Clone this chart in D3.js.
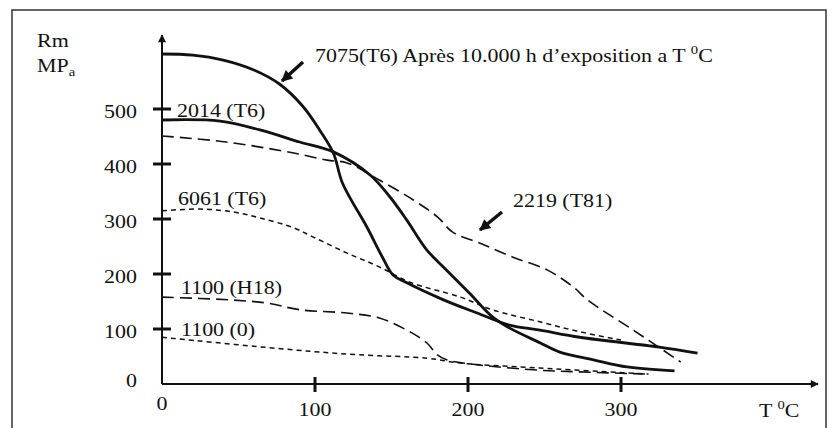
<!DOCTYPE html>
<html>
<head>
<meta charset="utf-8">
<script src="https://cdn.jsdelivr.net/npm/d3@7"></script>
<style>
body { margin: 0; background: #fff; }
</style>
</head>
<body>
<div id="chart"></div>
<script>
// values: T (°C) and Rm (MPa)
var t7075 = [0, 20, 40, 60, 77, 92, 103, 112, 118, 134, 144, 151, 160, 184, 206, 227, 247, 273, 325, 350]
var v7075 = [600, 598, 589, 571, 545, 505, 462, 420, 365, 285, 231, 198, 184, 153, 129, 107, 98, 85, 67, 56]
var t2014 = [0, 38, 64, 90, 112, 136, 149, 160, 173, 186, 201, 216, 227, 247, 260, 282, 304, 335]
var v2014 = [480, 478, 462, 440, 422, 380, 340, 298, 244, 207, 165, 122, 102, 75, 58, 44, 31, 24]
var t2219 = [0, 42, 86, 108, 121, 142, 164, 180, 190, 208, 229, 252, 269, 278, 308, 339]
var v2219 = [451, 440, 420, 407, 402, 371, 335, 304, 276, 256, 231, 207, 176, 153, 98, 40]
var t6061 = [0, 25, 46, 64, 86, 99, 121, 142, 162, 195, 216, 247, 273, 300]
var v6061 = [315, 318, 313, 302, 284, 267, 238, 213, 185, 158, 135, 113, 95, 80]
var t1100h = [0, 44, 69, 90, 121, 142, 160, 173, 180, 186, 206, 247, 273, 318]
var v1100h = [158, 153, 147, 135, 129, 120, 98, 75, 53, 44, 35, 25, 22, 18]
var t1100o = [0, 86, 129, 173, 195, 247, 318]
var v1100o = [85, 62, 53, 47, 38, 29, 18]

var xTicks = [100, 200, 300]
var yTicks = [100, 200, 300, 400, 500]

var width = 835, height = 428
var svg = d3.select("#chart").append("svg")
    .attr("width", width).attr("height", height)
    .attr("font-family", "'Liberation Serif', 'DejaVu Serif', serif")

// frame
svg.append("rect")
    .attr("x", 12).attr("y", 10).attr("width", 814).attr("height", 440)
    .attr("fill", "none").attr("stroke", "#333").attr("stroke-width", 1.5)

var x = d3.scaleLinear().domain([0, 300]).range([162, 621])
var y = d3.scaleLinear().domain([0, 500]).range([384, 109])

// arrow heads
var defs = svg.append("defs")
defs.append("marker").attr("id", "axhead")
    .attr("viewBox", "0 0 10 10").attr("refX", 9).attr("refY", 5)
    .attr("markerWidth", 5).attr("markerHeight", 4).attr("markerUnits", "strokeWidth")
    .attr("orient", "auto")
    .append("path").attr("d", "M0,0L10,5L0,10Z").attr("fill", "#111")
defs.append("marker").attr("id", "pointer")
    .attr("viewBox", "0 0 10 10").attr("refX", 9).attr("refY", 5)
    .attr("markerWidth", 4).attr("markerHeight", 3.2).attr("markerUnits", "strokeWidth")
    .attr("orient", "auto")
    .append("path").attr("d", "M0,0L10,5L0,10Z").attr("fill", "#111")

// axes
svg.append("line")
    .attr("x1", x(0)).attr("y1", y(0)).attr("x2", x(0)).attr("y2", 35)
    .attr("stroke", "#111").attr("stroke-width", 2).attr("marker-end", "url(#axhead)")
svg.append("line")
    .attr("x1", x(0)).attr("y1", y(0)).attr("x2", 818).attr("y2", y(0))
    .attr("stroke", "#111").attr("stroke-width", 2).attr("marker-end", "url(#axhead)")

svg.selectAll(".ytick").data(yTicks).enter().append("line")
    .attr("x1", 153).attr("x2", 171)
    .attr("y1", function(d) { return y(d) }).attr("y2", function(d) { return y(d) })
    .attr("stroke", "#111").attr("stroke-width", 3)
svg.selectAll(".xtick").data(xTicks).enter().append("line")
    .attr("y1", 377).attr("y2", 392)
    .attr("x1", function(d) { return x(d) }).attr("x2", function(d) { return x(d) })
    .attr("stroke", "#111").attr("stroke-width", 3)

// text helper, glyphs are a bit wide in the original
function label(px, py, str, anchor, size) {
    return svg.append("text")
        .attr("transform", "translate(" + px + "," + py + ") scale(1.22,1)")
        .attr("text-anchor", anchor || "start")
        .attr("font-size", size || 18)
        .attr("fill", "#111")
        .text(str)
}

yTicks.forEach(function(d) { label(137, y(d) + 9, d, "end") })
label(137, 387, "0", "end")
label(x(0), 410, "0", "middle")
xTicks.forEach(function(d) { label(x(d), 416, d, "middle") })

label(37, 47, "Rm")
var mp = label(37, 72, "MP")
mp.append("tspan").attr("font-size", 12).attr("dy", 4).text("a")

var tx = label(759, 417, "T ")
tx.append("tspan").attr("font-size", 12).attr("dy", -8).text("0")
tx.append("tspan").attr("dy", 8).text("C")

var title = label(315, 62, "7075(T6) Après 10.000 h d’exposition a T ")
title.append("tspan").attr("font-size", 12).attr("dy", -8).text("0")
title.append("tspan").attr("dy", 8).text("C")

label(177, 117, "2014 (T6)")
label(178, 205, "6061 (T6)")
label(181, 294, "1100 (H18)")
label(181, 336, "1100 (0)")
label(513, 207, "2219 (T81)")

// pointers
svg.append("line").attr("x1", 303).attr("y1", 62).attr("x2", 282).attr("y2", 81)
    .attr("stroke", "#111").attr("stroke-width", 3.5).attr("marker-end", "url(#pointer)")
svg.append("line").attr("x1", 502).attr("y1", 212).attr("x2", 480).attr("y2", 230)
    .attr("stroke", "#111").attr("stroke-width", 3.5).attr("marker-end", "url(#pointer)")

// curves
var series = [
    {t: t7075, v: v7075, w: 2.8, dash: null},
    {t: t2014, v: v2014, w: 2.8, dash: null},
    {t: t2219, v: v2219, w: 1.6, dash: "12,6"},
    {t: t6061, v: v6061, w: 1.5, dash: "5,4"},
    {t: t1100h, v: v1100h, w: 1.6, dash: "12,6"},
    {t: t1100o, v: v1100o, w: 1.5, dash: "5,4"}
]
var line = d3.line().curve(d3.curveCatmullRom.alpha(0.5))
    .x(function(d) { return x(d[0]) })
    .y(function(d) { return y(d[1]) })

series.forEach(function(s) {
    svg.append("path")
        .datum(d3.zip(s.t, s.v))
        .attr("fill", "none")
        .attr("stroke", "#111")
        .attr("stroke-width", s.w)
        .attr("stroke-dasharray", s.dash)
        .attr("d", line)
})
</script>
</body>
</html>
